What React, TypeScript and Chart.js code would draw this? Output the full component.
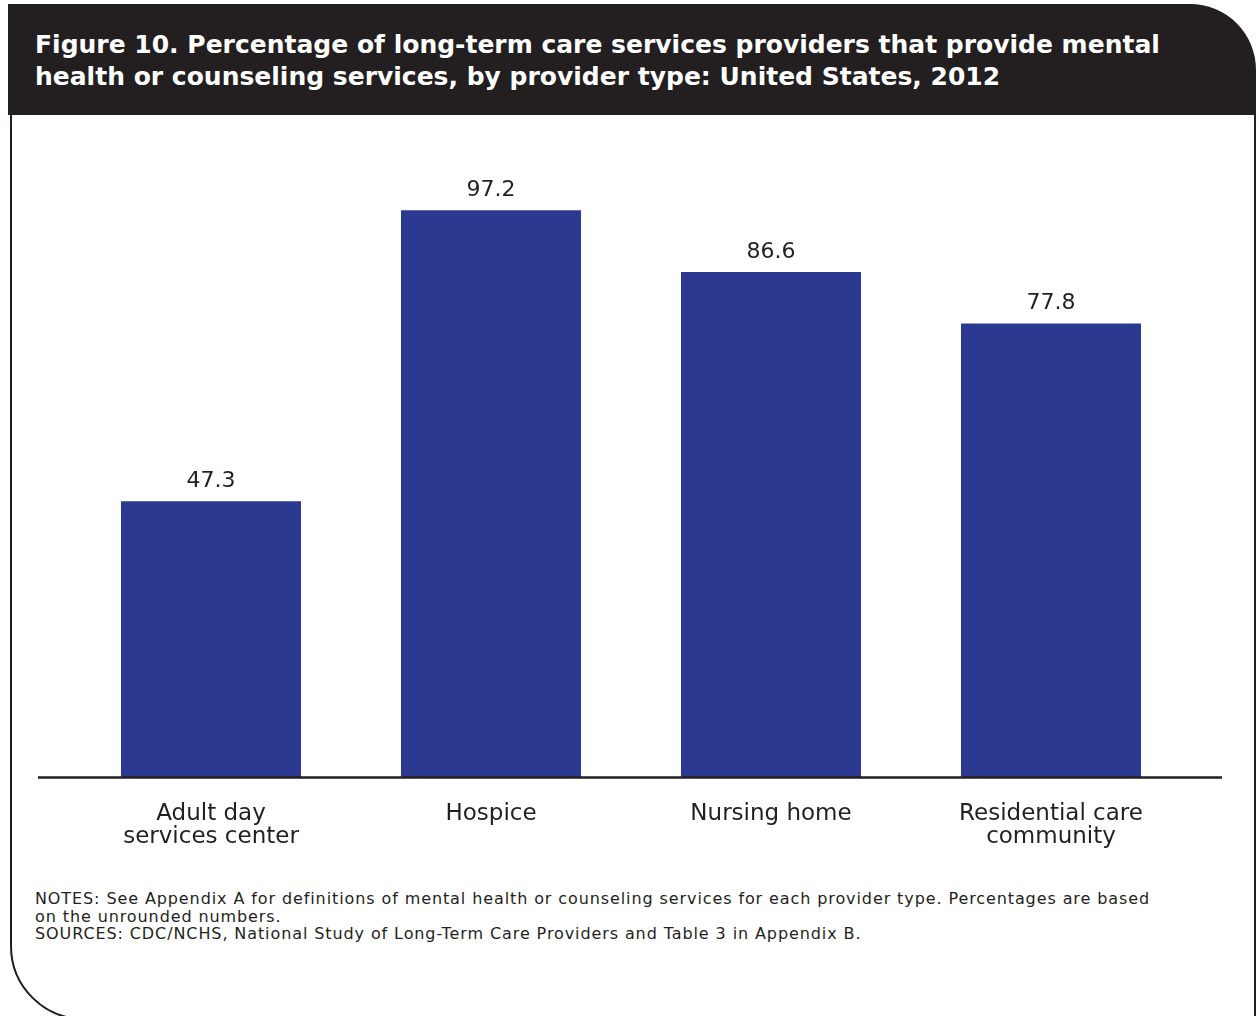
import React, { useEffect, useRef } from "react";
import { Chart, registerables } from "chart.js";

Chart.register(...registerables);

const categories: string[][] = [
  ["Adult day", "services center"],
  ["Hospice"],
  ["Nursing home"],
  ["Residential care", "community"],
];
const values: number[] = [47.3, 97.2, 86.6, 77.8];
const valueLabels: string[] = ["47.3", "97.2", "86.6", "77.8"];

const titleLines: string[] = [
  "Figure 10. Percentage of long-term care services providers that provide mental",
  "health or counseling services, by provider type: United States, 2012",
];
const noteLines: string[] = [
  "NOTES: See Appendix A for definitions of mental health or counseling services for each provider type. Percentages are based",
  "on the unrounded numbers.",
  "SOURCES: CDC/NCHS, National Study of Long-Term Care Providers and Table 3 in Appendix B.",
];

const DARK = "#231f20";
const BAR = "#2b3990";
const FONT = "'DejaVu Sans', sans-serif";

const CANVAS_TOP = 120;
const CANVAS_H = 750;

export default function App() {
  const ref = useRef<HTMLCanvasElement | null>(null);

  useEffect(() => {
    if (!ref.current) return;
    const valueLabelPlugin = {
      id: "valueLabels",
      afterDatasetsDraw(chart: any) {
        const ctx = chart.ctx;
        const meta = chart.getDatasetMeta(0);
        ctx.save();
        ctx.fillStyle = DARK;
        ctx.font = `22px ${FONT}`;
        ctx.textAlign = "center";
        ctx.textBaseline = "middle";
        meta.data.forEach((bar: any, i: number) => {
          ctx.fillText(valueLabels[i], bar.x, bar.y - 20);
        });
        ctx.restore();
      },
    };
    const baselinePlugin = {
      id: "baseline",
      afterDatasetsDraw(chart: any) {
        const ctx = chart.ctx;
        const y = chart.scales.y.getPixelForValue(0);
        ctx.save();
        ctx.strokeStyle = DARK;
        ctx.lineWidth = 2.5;
        ctx.beginPath();
        ctx.moveTo(38, y + 0.5);
        ctx.lineTo(1222, y + 0.5);
        ctx.stroke();
        ctx.restore();
      },
    };
    const chart = new Chart(ref.current, {
      type: "bar",
      data: {
        labels: categories,
        datasets: [
          {
            data: values,
            backgroundColor: BAR,
            borderWidth: 0,
            barPercentage: 0.643,
            categoryPercentage: 1,
          },
        ],
      },
      options: {
        responsive: false,
        animation: false,
        devicePixelRatio: 1,
        layout: { padding: { left: 71, right: 68, top: 194 - CANVAS_TOP, bottom: 0 } },
        plugins: { legend: { display: false }, tooltip: { enabled: false }, title: { display: false } },
        scales: {
          x: {
            grid: { display: false, drawTicks: false },
            border: { display: false },
            ticks: {
              color: DARK,
              font: { family: FONT, size: 23, lineHeight: 1.0 },
              padding: 26,
              maxRotation: 0,
              autoSkip: false,
            },
            afterFit(scale: any) {
              scale.height = CANVAS_H - (777 - CANVAS_TOP);
            },
          },
          y: {
            display: false,
            min: 0,
            max: 100,
          },
        },
      },
      plugins: [valueLabelPlugin, baselinePlugin],
    });
    return () => chart.destroy();
  }, []);

  return (
    <div
      style={{
        position: "absolute",
        left: 0,
        top: 0,
        width: 1259,
        height: 1016,
        overflow: "hidden",
        background: "#fff",
      }}
    >
      <div
        style={{
          position: "absolute",
          left: 10,
          top: 100,
          width: 1246,
          height: 920,
          boxSizing: "border-box",
          border: `2px solid ${DARK}`,
          borderBottomLeftRadius: 74,
        }}
      />
      <div
        style={{
          position: "absolute",
          left: 8,
          top: 4,
          width: 1248,
          height: 111,
          background: DARK,
          borderTopRightRadius: 66,
        }}
      >
        <div
          style={{
            position: "absolute",
            left: 27,
            top: 25,
            color: "#fff",
            fontFamily: FONT,
            fontWeight: "bold",
            fontSize: 25,
            lineHeight: "32px",
            whiteSpace: "nowrap",
          }}
        >
          {titleLines.map((t, i) => (
            <div key={i}>{t}</div>
          ))}
        </div>
      </div>
      <canvas
        ref={ref}
        width={1259}
        height={CANVAS_H}
        style={{ position: "absolute", left: 0, top: CANVAS_TOP, width: 1259, height: CANVAS_H }}
      />
      <div
        style={{
          position: "absolute",
          left: 35,
          top: 890,
          color: DARK,
          fontFamily: FONT,
          fontSize: 16,
          letterSpacing: "0.9px",
          lineHeight: "17.5px",
          whiteSpace: "nowrap",
        }}
      >
        {noteLines.map((t, i) => (
          <div key={i}>{t}</div>
        ))}
      </div>
    </div>
  );
}
